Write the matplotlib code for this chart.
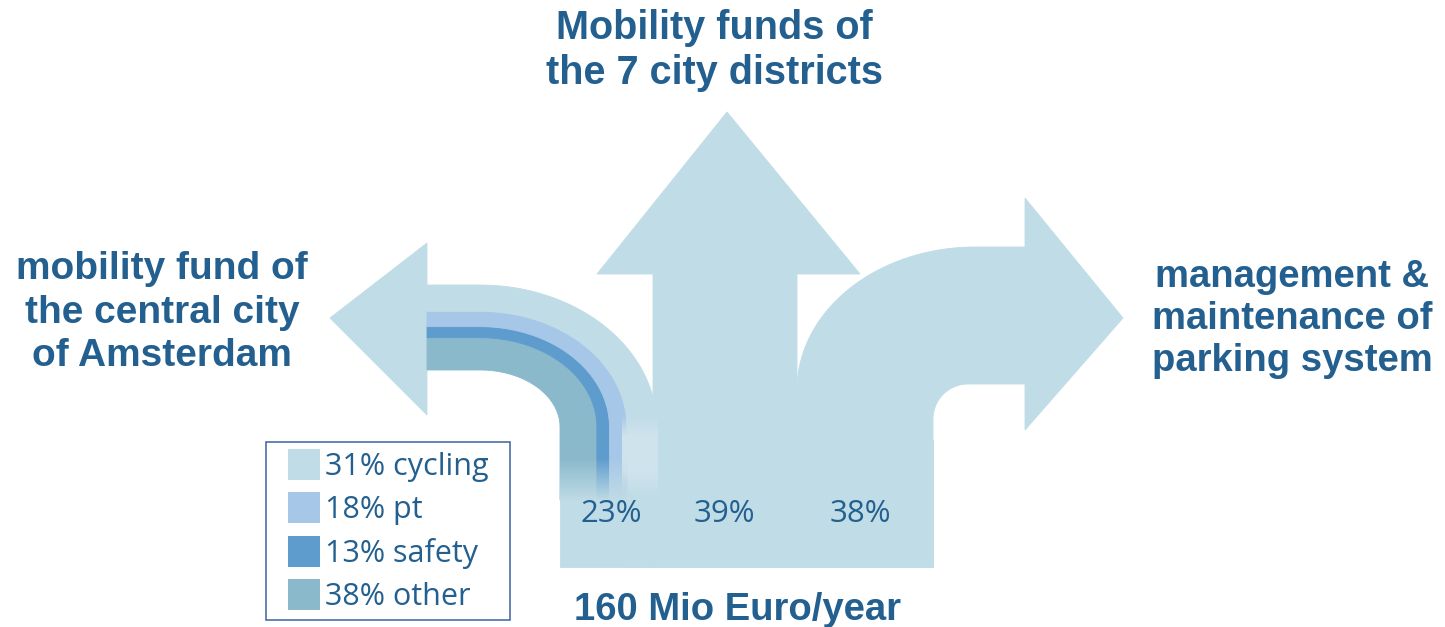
import numpy as np
import matplotlib.pyplot as plt
import matplotlib.patches as patches

# split of the 160 Mio Euro/year
branch_labels = ['23%', '39%', '38%']
branch_share = [23, 39, 38]

# use of the central city fund (outer band first)
fund_names = ['cycling', 'pt', 'safety', 'other']
fund_share = [31, 18, 13, 38]

title_top = ['Mobility funds of', 'the 7 city districts']
title_left = ['mobility fund of', 'the central city', 'of Amsterdam']
title_right = ['management &', 'maintenance of', 'parking system']
title_bottom = '160 Mio Euro/year'

base_col = '#c0dce6'
fund_cols = ['#c0dce6', '#a7c7e8', '#5e9cce', '#8ab9cc']
text_col = '#23608f'


def arc(cx, cy, rx, ry, n=60):
    """quarter ellipse from top (horizontal tangent) to right side (vertical tangent), y pointing down"""
    t = np.linspace(0, np.pi / 2, n)
    return np.column_stack([cx + rx * np.sin(t), cy - ry * np.cos(t)])


def band(cx, cy, ri, ro, x_start, y_end):
    """curved band between inner radii ri and outer radii ro"""
    outer = arc(cx, cy, ro[0], ro[1])
    inner = arc(cx, cy, ri[0], ri[1])[::-1]
    pts = [(x_start, cy - ro[1])] + list(outer) + [(cx + ro[0], y_end), (cx + ri[0], y_end)] \
        + list(inner) + [(x_start, cy - ri[1])]
    return np.array(pts)


def shape(pts, col, z=1):
    ax.add_patch(patches.Polygon(pts, closed=True, fc=col, ec=col, lw=0.6, zorder=z))


fig = plt.figure(figsize=(14.45, 6.27), dpi=100)
ax = fig.add_axes([0, 0, 1, 1])

# trunk
shape([(560, 440), (933, 440), (933, 567), (560, 567)], base_col)

# up arrow
shape([(653, 567), (653, 274), (597, 274), (727, 112), (860, 274), (797, 274), (797, 567)], base_col)

# right arrow
t = np.linspace(0, np.pi / 2, 60)
right = [(797, 567), (797, 390)]
right += list(zip(975 - 178 * np.cos(t), 390 - 143 * np.sin(t)))
right += [(1025, 247), (1025, 198), (1123, 318), (1025, 430), (1025, 384), (968, 384)]
t2 = np.linspace(np.pi / 2, np.pi, 30)
right += list(zip(968 + 35 * np.cos(t2), 419 - 35 * np.sin(t2)))
right += [(933, 567)]
shape(right, base_col)

# left arrow head
shape([(427, 243), (330, 318), (427, 415)], base_col)

# left arrow bands, widths from the fund shares (inner band = other)
cx, cy = 480, 427
ri0 = np.array([80.0, 57.0])
span = np.array([97.0, 85.0])
edges = np.concatenate([[0], np.cumsum(fund_share[::-1]) / 100.0])
cols_inner_first = fund_cols[::-1]
for k in range(4):
    ri = ri0 + span * edges[k]
    ro = ri0 + span * edges[k + 1]
    y_end = 500 if k < 3 else 567
    shape(band(cx, cy, ri, ro, 427, y_end), cols_inner_first[k])

# lighter patch in cycling band
n = 100
yy = np.linspace(0, 1, n)
light = np.zeros((n, 1, 4))
light[:, 0, :3] = np.array([207, 227, 237]) / 255.0
light[:, 0, 3] = np.clip(np.minimum(yy / 0.25, (1 - yy) / 0.3), 0, 1)
ax.imshow(light, extent=(622, 658, 497, 415), aspect='auto', interpolation='bilinear', zorder=2)

# fade of the coloured bands into the trunk
fade = np.zeros((n, 1, 4))
fade[:, 0, :3] = np.array([192, 220, 230]) / 255.0
fade[:, 0, 3] = yy
ax.imshow(fade, extent=(560, 628, 501, 458), aspect='auto', interpolation='bilinear', zorder=2)

# percentages
for lab, x in zip(branch_labels, [611, 724, 860]):
    ax.text(x, 522, lab, ha='center', va='baseline', fontsize=22.5, color=text_col,
            family='Open Sans', zorder=3)

# titles
bold = dict(ha='center', va='baseline', color=text_col, family='Liberation Sans',
            weight='bold', zorder=3)
for line, y in zip(title_top, [39, 84]):
    ax.text(714, y, line, fontsize=28.5, **bold)
for line, y in zip(title_left, [279, 323, 366]):
    ax.text(162, y, line, fontsize=28, **bold)
for line, y in zip(title_right, [287, 329, 371]):
    ax.text(1292, y, line, fontsize=27.5, **bold)
ax.text(738, 620, title_bottom, fontsize=27.5, **bold)

# legend
ax.add_patch(patches.Rectangle((266, 442), 244, 178, fill=False, ec='#4a6fa5', lw=1.2, zorder=3))
for i, (name, share) in enumerate(zip(fund_names, fund_share)):
    y0 = 449 + i * 43.3
    ax.add_patch(patches.Rectangle((288, y0), 32, 31, color=fund_cols[i], lw=0, zorder=3))
    ax.text(325, y0 + 26, '%d%% %s' % (share, name), ha='left', va='baseline', fontsize=22,
            color=text_col, family='Open Sans', zorder=3)

ax.set_xlim(0, 1445)
ax.set_ylim(627, 0)
ax.axis('off')
plt.savefig('out.png', dpi=100)
